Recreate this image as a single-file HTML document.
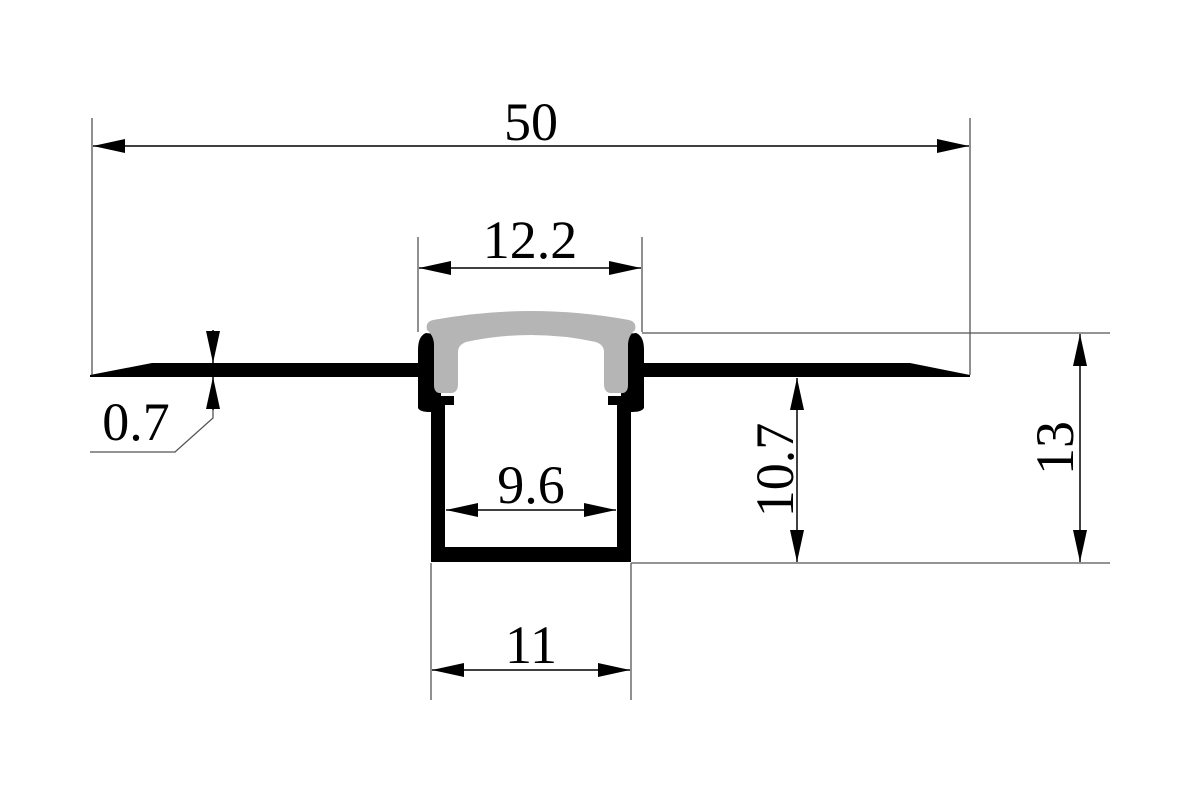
<!DOCTYPE html>
<html><head><style>body{margin:0;background:#fff}svg{display:block}text{font-family:"Liberation Serif",serif;font-size:54px;fill:#000}</style></head><body>
<svg width="1200" height="800" viewBox="0 0 1200 800">
<defs><marker id="a" viewBox="0 0 32 14" refX="32" refY="7" markerWidth="32" markerHeight="14" markerUnits="userSpaceOnUse" orient="auto-start-reverse"><path d="M0,0L32,7L0,14z"/></marker></defs>
<g stroke="#555" stroke-width="1.3" fill="none">
<line x1="92" y1="118" x2="92" y2="375"/><line x1="970" y1="118" x2="970" y2="375"/>
<line x1="418" y1="237" x2="418" y2="332"/><line x1="642" y1="237" x2="642" y2="332"/>
<line x1="642" y1="333" x2="1110" y2="333"/><line x1="631" y1="563" x2="1110" y2="563"/>
<line x1="431" y1="563" x2="431" y2="700"/><line x1="631" y1="563" x2="631" y2="700"/>
<polyline points="213,410 213,418 175,452 90,452"/>
</g>
<g stroke="#000" stroke-width="1.5" fill="none">
<line x1="93" y1="146" x2="969" y2="146" marker-start="url(#a)" marker-end="url(#a)"/>
<line x1="419" y1="268" x2="641" y2="268" marker-start="url(#a)" marker-end="url(#a)"/>
<line x1="446" y1="510" x2="616" y2="510" marker-start="url(#a)" marker-end="url(#a)"/>
<line x1="432" y1="670" x2="630" y2="670" marker-start="url(#a)" marker-end="url(#a)"/>
<line x1="797" y1="378" x2="797" y2="562" marker-start="url(#a)" marker-end="url(#a)"/>
<line x1="1080" y1="334" x2="1080" y2="562" marker-start="url(#a)" marker-end="url(#a)"/>
<line x1="213" y1="330" x2="213" y2="363" marker-end="url(#a)"/>
<line x1="213" y1="410" x2="213" y2="377" marker-end="url(#a)"/>
</g>
<path d="M90,375 L152,363 L418,363 L418,377 L90,377z M970,375 L910,363 L642,363 L642,377 L970,377z"/>
<path d="M431,405 L445,405 L445,547 L617,547 L617,405 L631,405 L631,562 L431,562z"/>
<path d="M426,333 Q418,336 418,350 L418,408 Q420,412 430,412 L441,412 L441,405 L454,405 L454,396 L441,396 L441,355 Q441,340 435,334z"/>
<path d="M636,333 Q644,336 644,350 L644,408 Q642,412 632,412 L621,412 L621,405 L608,405 L608,396 L621,396 L621,355 Q621,340 627,334z"/>
<path fill="#b5b5b5" d="M427,330 Q425,322 433,320 Q531,302 629,320 Q637,322 635,330 Q628,336 628,345 L628,385 Q628,394 620,393 L610,393 Q604,392 604,384 L604,352 Q604,345 596,342 Q531,328 466,342 Q458,345 458,352 L458,384 Q458,392 452,393 L442,393 Q434,394 434,385 L434,345 Q434,336 427,330z"/>
<text x="531" y="140" text-anchor="middle">50</text>
<text x="530" y="258" text-anchor="middle">12.2</text>
<text x="531" y="503" text-anchor="middle">9.6</text>
<text x="531" y="663" text-anchor="middle">11</text>
<text x="136" y="440" text-anchor="middle">0.7</text>
<text transform="translate(793,470) rotate(-90)" text-anchor="middle">10.7</text>
<text transform="translate(1073,448) rotate(-90)" text-anchor="middle">13</text>
</svg></body></html>
